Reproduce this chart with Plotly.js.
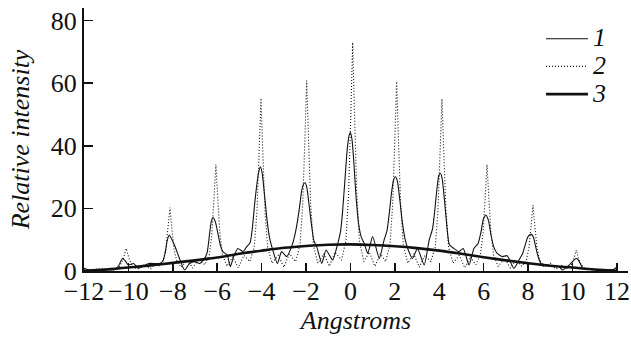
<!DOCTYPE html>
<html>
<head>
<meta charset="utf-8">
<script src="https://cdn.plot.ly/plotly-3.0.1.min.js"></script>
<style>
html,body{margin:0;padding:0;background:#fff;}
#chart{width:631px;height:339px;}
</style>
</head>
<body>
<div id="chart"></div>
<script>
// Curve 1 (thin solid)
const x1 = [-12.0,-11.8,-11.0,-10.6,-10.45,-10.35,-10.27,-10.15,-10.0,-9.77,-9.54,-9.32,-9.08,-8.6,-8.45,-8.35,-8.25,-8.16,-8.05,-7.9,-7.7,-7.47,-7.25,-7.02,-6.79,-6.57,-6.45,-6.35,-6.27,-6.19,-6.08,-5.97,-5.85,-5.75,-5.55,-5.41,-5.26,-5.07,-4.84,-4.67,-4.52,-4.42,-4.32,-4.2,-4.12,-4.05,-3.97,-3.88,-3.76,-3.64,-3.52,-3.29,-3.1,-2.87,-2.65,-2.52,-2.42,-2.3,-2.2,-2.11,-2.04,-1.96,-1.86,-1.75,-1.64,-1.52,-1.29,-1.1,-0.8,-0.57,-0.45,-0.36,-0.25,-0.15,-0.07,0.0,0.07,0.15,0.25,0.36,0.48,0.62,0.78,1.0,1.3,1.52,1.65,1.75,1.85,1.94,2.03,2.12,2.22,2.33,2.45,2.6,2.79,3.02,3.32,3.55,3.7,3.8,3.9,3.98,4.05,4.13,4.23,4.34,4.45,4.66,4.88,5.08,5.34,5.56,5.75,5.88,5.98,6.1,6.22,6.33,6.45,6.61,6.84,7.06,7.36,7.59,7.75,7.88,7.98,8.08,8.15,8.24,8.34,8.45,8.58,9.0,9.4,9.55,9.85,10.0,10.1,10.17,10.25,10.35,10.47,10.8,11.5,11.85,11.95,12.0];
const y1 = [0.9,0.4,0.3,0.5,1.6,3.0,4.0,3.3,1.9,2.4,0.9,1.6,2.4,2.4,3.2,5.6,9.8,11.5,10.2,7.8,4.0,0.3,2.4,3.0,2.4,4.0,6.0,11.5,15.8,17.1,15.6,12.0,8.0,6.2,5.1,1.4,4.6,7.2,6.2,7.8,9.0,13.5,21.0,28.5,32.0,33.3,31.0,25.0,16.5,10.5,7.2,2.4,6.2,4.6,7.8,11.0,14.5,20.0,25.5,27.8,28.2,26.5,21.0,14.5,9.5,7.8,2.4,6.7,3.5,8.8,12.5,18.5,29.0,38.5,43.0,44.2,42.0,35.0,24.0,15.5,11.0,8.8,5.6,11.0,4.0,10.0,13.0,18.5,25.0,29.0,30.1,28.5,23.0,16.0,10.5,6.8,4.0,7.2,1.9,10.0,13.5,19.5,26.5,30.5,31.2,29.5,23.0,14.5,8.5,7.2,6.2,7.2,1.9,7.2,8.8,12.5,16.5,17.9,16.0,11.5,7.8,5.6,4.6,4.9,0.85,3.5,5.5,8.5,10.8,11.6,11.7,10.8,7.8,4.6,2.4,1.6,1.4,0.3,1.9,3.0,3.7,4.0,3.6,2.4,0.85,0.5,0.4,0.5,1.0,0.3];

// Curve 2 (dotted)
const x2 = [-12.0,-11.5,-11.0,-10.6,-10.4,-10.25,-10.1,-9.95,-9.8,-9.6,-9.3,-9.0,-8.8,-8.63,-8.43,-8.31,-8.21,-8.13,-8.05,-7.95,-7.83,-7.63,-7.35,-7.1,-6.85,-6.56,-6.36,-6.24,-6.14,-6.06,-5.98,-5.88,-5.76,-5.56,-5.3,-5.05,-4.8,-4.53,-4.33,-4.21,-4.11,-4.03,-3.95,-3.85,-3.73,-3.53,-3.25,-3.0,-2.75,-2.47,-2.27,-2.15,-2.05,-1.97,-1.89,-1.79,-1.67,-1.47,-1.2,-0.95,-0.7,-0.4,-0.2,-0.08,0.02,0.1,0.18,0.28,0.4,0.6,0.85,1.1,1.35,1.58,1.78,1.9,2.0,2.08,2.16,2.26,2.38,2.58,2.85,3.1,3.35,3.62,3.82,3.94,4.04,4.12,4.2,4.3,4.42,4.62,4.9,5.15,5.4,5.65,5.85,5.97,6.07,6.15,6.23,6.33,6.45,6.65,6.95,7.2,7.45,7.72,7.92,8.04,8.14,8.22,8.3,8.4,8.52,8.72,9.0,9.25,9.5,9.75,9.95,10.07,10.17,10.27,10.39,10.6,11.0,11.5,12.0];
const y2 = [0.3,0.5,0.8,0.5,1.5,3.5,7.2,3.5,1.5,0.5,2.0,0.8,2.5,1.5,3.4,7.1,14.2,20.3,14.2,7.1,3.4,1.2,3.5,1.0,3.8,2.0,5.1,11.9,23.8,34.0,23.8,11.9,5.1,1.5,4.5,1.0,5.0,3.0,7.6,19.3,38.6,55.2,38.6,19.3,7.6,2.5,5.0,1.2,5.5,3.0,8.3,21.3,42.6,60.8,42.6,21.3,8.3,2.5,5.5,1.5,6.0,3.5,9.8,25.6,51.1,73.0,51.1,25.6,9.8,3.0,6.0,1.5,5.5,3.0,8.3,21.2,42.4,60.5,42.4,21.2,8.3,2.5,5.5,1.2,5.0,3.0,7.6,19.3,38.5,55.0,38.5,19.3,7.6,2.5,5.0,1.0,4.5,2.0,5.1,11.9,23.8,34.0,23.8,11.9,5.1,1.5,4.0,1.0,3.5,1.5,3.5,7.4,14.7,21.0,14.7,7.4,3.5,1.2,2.5,0.6,1.8,0.8,2.0,4.0,6.8,4.0,2.0,0.5,0.5,0.3,0.2];

// Curve 3 (thick, smooth)
const x3 = [-12,-11,-10,-9,-8,-7,-6,-5,-4,-3,-2,-1,0,1,2,3,4,5,6,7,8,9,10,11,12];
const y3 = [0.1,0.5,1.1,1.8,2.6,3.4,4.3,5.5,6.5,7.4,8.0,8.4,8.5,8.3,7.9,7.3,6.5,5.5,4.4,3.4,2.5,1.7,1.1,0.5,0.1];

const names = ['1','2','3'];
const xTicks = [-12,-10,-8,-6,-4,-2,0,2,4,6,8,10,12];
const yTicks = [0,20,40,60,80];

const FONT = 'Liberation Serif';
const tfont = () => ({family:FONT, size:26, color:'#111'});
const ifont = (s) => ({family:FONT, size:s, color:'#111', style:'italic'});
const big = (t) => '<span style="font-size:26px">' + t + '</span>';
const traces = [
  {x:x1, y:y1, name:big(names[0]), mode:'lines', line:{color:'#111', width:1.1, shape:'spline', smoothing:0.5}},
  {x:x2, y:y2, name:big(names[1]), mode:'lines', line:{color:'#111', width:1.1, dash:'1px,2px'}},
  {x:x3, y:y3, name:big(names[2]), mode:'lines', line:{color:'#111', width:2.6, shape:'spline'}}
];
const layout = {
  width:631, height:339,
  margin:{l:84, r:3, t:8, b:68},
  paper_bgcolor:'#fff', plot_bgcolor:'#fff',
  font:{family:FONT, size:26, color:'#111'},
  showlegend:true,
  legend:{x:0.84, y:0.955, xanchor:'left', yanchor:'top', bgcolor:'rgba(0,0,0,0)',
          font:ifont(19), itemwidth:42, tracegroupgap:0},
  xaxis:{range:[-12,12.5], tickvals:xTicks, ticktext:xTicks.map(v=>v<0?'\u2212'+Math.abs(v):String(v)),
         showline:true, linewidth:2, linecolor:'#111', ticks:'inside', ticklen:8, tickwidth:1.5, tickcolor:'#111',
         showgrid:false, zeroline:false, tickfont:tfont(), ticklabelstandoff:-4,
         title:{text:'Angstroms', font:ifont(26), standoff:2}},
  yaxis:{range:[0,84], tickvals:yTicks, showline:true, linewidth:2, linecolor:'#111', ticks:'inside', ticklen:9,
         tickwidth:1.5, tickcolor:'#111', showgrid:false, zeroline:false, tickfont:tfont(),
         title:{text:'Relative intensity', font:ifont(26), standoff:14}}
};
Plotly.newPlot('chart', traces, layout, {staticPlot:true, displayModeBar:false});
</script>
</body>
</html>
